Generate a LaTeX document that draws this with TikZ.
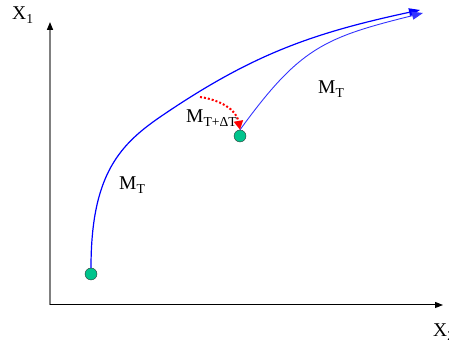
\documentclass[tikz,border=0pt]{standalone}
\usepackage{fontspec}
\setmainfont{Liberation Serif}
\usetikzlibrary{arrows.meta}
\definecolor{dotgreen}{RGB}{0,196,140}

\begin{document}
\begin{tikzpicture}[x=1pt,y=1pt,
    lbl/.style={font=\fontsize{19.5}{22}\selectfont, inner sep=0pt, anchor=base west},
    dot/.style={circle, draw=black!80, thin, fill=dotgreen, inner sep=0pt, minimum size=12pt},
    path1/.style={blue, line width=1.2pt, -{Triangle[length=11pt,width=8pt]}},
    path2/.style={blue!80!white, line width=0.9pt, -{Triangle[length=11pt,width=8pt]}},
    jump/.style={red, dotted, line width=2pt, -{Triangle[length=9pt,width=9pt]}}]
			\useasboundingbox (0,0) rectangle (449,344);
			% axes
			\coordinate (O) at (50,39);
			\coordinate (ytip) at (50,322);
			\coordinate (xtip) at (443,39);
			\draw[gray, line width=1.5pt, -{Triangle[length=8pt,width=6pt,color=black]}] (O) -- (ytip);
			\draw[black, line width=1pt, -{Triangle[length=8pt,width=6pt]}] (O) -- (xtip);
			\node[lbl] (x1) at (12,324) {X\textsubscript{1}};
			\node[lbl] (x2) at (433,7) {X\textsubscript{2}};
			% states
			\node[dot] (p0) at (91,70) {};
			\node[dot] (p1) at (240,208) {};
			\coordinate (bend) at (163,229);
			\coordinate (end0) at (420,334);
			\coordinate (end1) at (423,331);
			\coordinate (fork) at (200,247);
			% trajectories
			\draw[path1] (p0.north) .. controls (91,170) and (120,200) .. (bend)
			  .. controls (253,290) and (313,311) .. (end0);
			\draw[path2] (p1.north) to[out=54, in=194, looseness=1.2] (end1);
			\draw[jump] (fork) to[out=-8, in=100] (p1.north);
			% labels
			\node[lbl] (mt0) at (119,154) {M\textsubscript{T}};
			\node[lbl] (mt1) at (318,250) {M\textsubscript{T}};
			\node[lbl] (mdt) at (186,221) {M\textsubscript{T+ΔT}};
\end{tikzpicture}
\end{document}
